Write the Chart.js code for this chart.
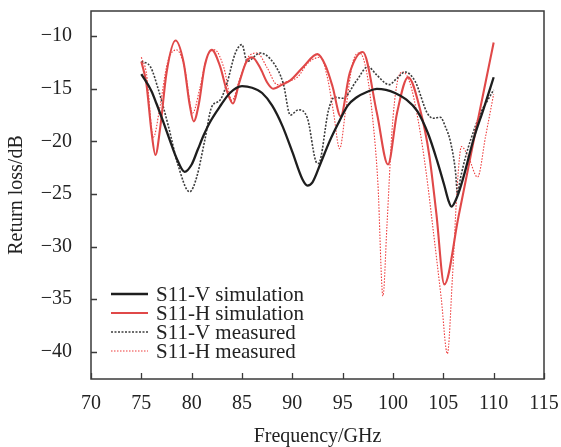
<!DOCTYPE html>
<html>
<head>
<meta charset="utf-8">
<script src="https://cdn.jsdelivr.net/npm/chart.js@4"></script>
<style>
  html, body { margin: 0; padding: 0; background: #fff; }
  #wrap { width: 561px; height: 447px; }
</style>
</head>
<body>
<div id="wrap"><canvas id="chart"></canvas></div>
<script>
// tick labels
const xTicks = [70, 75, 80, 85, 90, 95, 100, 105, 110, 115];
const yTicks = [-40, -35, -30, -25, -20, -15, -10];

const seriesNames = ['S11-V simulation', 'S11-H simulation', 'S11-V measured', 'S11-H measured'];

// S11-V simulation
const vSimFreq = [75, 76, 76.5, 77.2, 77.8, 78.5, 79.3, 80, 80.6, 81.2, 81.8, 82.8, 83.8, 85, 86, 87, 88, 89, 90, 91, 91.5, 92, 92.8, 93.7, 94.5, 95.5, 96.4, 97.4, 98.4, 99.3, 100.2, 101.3, 102.4, 103.5, 104.4, 105.1, 105.5, 105.8, 106.4, 107, 108, 109, 110];
const vSimDb = [-13.6, -15.2, -16.4, -18.2, -19.8, -21.6, -22.9, -22.2, -20.8, -19.4, -18.2, -16.7, -15.4, -14.75, -14.9, -15.4, -16.6, -18.5, -21.0, -23.6, -24.2, -23.9, -22.1, -20.0, -18.4, -16.6, -15.8, -15.3, -15.0, -15.1, -15.4, -16.0, -17.1, -19.3, -21.9, -24.2, -25.6, -26.2, -25.2, -23.4, -19.8, -16.9, -13.9];

// S11-H simulation
const hSimFreq = [75, 75.5, 76, 76.4, 76.9, 77.5, 78.4, 79.2, 79.8, 80.2, 80.7, 81.3, 82, 82.8, 83.5, 84.1, 84.7, 85.4, 86, 86.8, 87.5, 88.1, 89, 89.8, 91.1, 92.5, 93.3, 94, 94.8, 95.7, 97, 98.4, 99.5, 100.4, 101.5, 102.7, 103.6, 104.3, 105.1, 106.5, 108, 109, 110];
const hSimDb = [-12.4, -14.5, -19.0, -21.3, -18.5, -13.5, -10.4, -12.5, -16.5, -18.1, -16.5, -12.8, -11.3, -12.8, -15.2, -16.4, -14.5, -12.5, -12.0, -13.0, -14.4, -15.0, -14.6, -14.2, -12.9, -11.7, -12.8, -14.8, -17.6, -13.5, -11.5, -17.3, -22.2, -17.3, -13.9, -17.0, -21.3, -26.8, -33.6, -27.2, -20.0, -15.3, -10.6];

// S11-V measured
const vMeasFreq = [75, 75.9, 76.7, 77.7, 78.6, 79.8, 80.5, 81.3, 82, 82.8, 83.5, 84.3, 85, 85.5, 86.8, 88.1, 89.1, 89.8, 90.6, 91.5, 92.3, 92.6, 93.6, 94.2, 95.0, 96.4, 97.5, 98.4, 99.6, 100.4, 101.2, 102.2, 103.4, 104, 104.7, 105.2, 105.7, 106.2, 106.4, 106.7, 107.2, 107.7, 108.7, 109.4, 110];
const vMeasDb = [-12.4, -12.9, -15.1, -18.6, -22.1, -24.8, -23.4, -19.9, -16.7, -16.1, -14.5, -11.7, -10.8, -12.4, -11.6, -12.5, -14.5, -17.5, -17.0, -17.8, -21.8, -22.1, -17.0, -15.8, -15.9, -14.2, -12.9, -13.7, -14.6, -14.0, -13.4, -14.3, -17.3, -17.8, -17.7, -18.6, -20.0, -22.8, -24.9, -23.5, -21.5, -19.9, -17.3, -16.1, -15.1];

// S11-H measured
const hMeasFreq = [75, 75.5, 76.2, 76.8, 77.6, 78.5, 79.3, 80.1, 80.8, 81.5, 82.3, 83.2, 84, 84.8, 85.6, 86.5, 87.5, 88.5, 89.5, 90.5, 91.6, 92.8, 93.5, 94.1, 94.7, 95.3, 96, 96.7, 97.4, 98, 98.5, 99, 99.4, 99.9, 100.4, 101, 101.7, 102.5, 103.3, 104, 104.8, 105.4, 105.9, 106.4, 106.8, 107.5, 108.4, 109.2, 110];
const hMeasDb = [-12.0, -13.5, -19.6, -17.0, -12.5, -11.3, -13.0, -17.3, -15.0, -12.0, -11.3, -13.0, -16.1, -14.0, -12.0, -11.6, -13.0, -14.6, -14.3, -13.9, -12.5, -12.0, -14.0, -17.3, -20.7, -17.0, -12.5, -11.6, -13.5, -18.0, -24.0, -34.7, -28.0, -19.0, -14.5, -13.4, -14.5, -18.0, -23.0, -28.5, -35.0, -40.2, -33.0, -24.0, -20.5, -21.5, -23.4, -19.5, -15.5];

function pts(fs, ds) {
    return fs.map((f, i) => ({ x: f, y: ds[i] }));
}

const serif = "'Liberation Serif', 'DejaVu Serif', serif";
const minus = v => (v < 0 ? '\u2212' + Math.abs(v) : '' + v);

// marco, marcas hacia dentro y leyenda dentro del área
const framePlugin = {
    id: 'frame',
    afterDraw(chart) {
        const ctx = chart.ctx;
        const a = chart.chartArea;
        const xs = chart.scales.x, ys = chart.scales.y;
        ctx.save();
        ctx.strokeStyle = '#3a3a3a';
        ctx.lineWidth = 1.5;
        ctx.strokeRect(a.left, a.top, a.right - a.left, a.bottom - a.top);
        ctx.lineWidth = 1.3;
        ctx.beginPath();
        xTicks.forEach(v => {
            const px = Math.round(xs.getPixelForValue(v)) + 0.5;
            ctx.moveTo(px, a.bottom);
            ctx.lineTo(px, a.bottom - 6);
        });
        yTicks.forEach(v => {
            const py = Math.round(ys.getPixelForValue(v)) + 0.5;
            ctx.moveTo(a.left, py);
            ctx.lineTo(a.left + 6, py);
        });
        ctx.stroke();

        // leyenda
        ctx.font = '21px ' + serif;
        ctx.textBaseline = 'middle';
        ctx.fillStyle = '#222';
        chart.data.datasets.forEach((ds, i) => {
            const y = 294 + i * 19;
            ctx.strokeStyle = ds.borderColor;
            ctx.lineWidth = ds.borderWidth;
            ctx.setLineDash(ds.borderDash || []);
            ctx.beginPath();
            ctx.moveTo(111, y);
            ctx.lineTo(148, y);
            ctx.stroke();
            ctx.setLineDash([]);
            ctx.fillText(ds.label, 156, y + 1);
        });
        ctx.restore();
    }
};

const ctx = document.getElementById('chart').getContext('2d');
new Chart(ctx, {
    type: 'line',
    data: {
        datasets: [
            {
                label: seriesNames[0],
                data: pts(vSimFreq, vSimDb),
                borderColor: '#1e1e1e',
                borderWidth: 2.3,
                order: 1
            },
            {
                label: seriesNames[1],
                data: pts(hSimFreq, hSimDb),
                borderColor: '#e04848',
                borderWidth: 2.1,
                order: 2
            },
            {
                label: seriesNames[2],
                data: pts(vMeasFreq, vMeasDb),
                borderColor: '#3c3c3c',
                borderWidth: 1.6,
                borderDash: [2, 1.5],
                order: 3
            },
            {
                label: seriesNames[3],
                data: pts(hMeasFreq, hMeasDb),
                borderColor: '#ee3b3b',
                borderWidth: 1.1,
                borderDash: [1.5, 1.5],
                order: 4
            }
        ]
    },
    options: {
        responsive: true,
        maintainAspectRatio: false,
        animation: false,
        layout: {
            padding: { top: 11, right: 17, left: 0, bottom: 0 }
        },
        elements: {
            point: { radius: 0 },
            line: { cubicInterpolationMode: 'monotone', fill: false }
        },
        plugins: {
            legend: { display: false },
            tooltip: { enabled: false }
        },
        scales: {
            x: {
                type: 'linear',
                min: 70,
                max: 115,
                afterBuildTicks: s => { s.ticks = xTicks.map(v => ({ value: v })); },
                afterFit: s => { s.height = 68; s.paddingLeft = 0; s.paddingRight = 0; },
                grid: { display: false, drawTicks: false },
                border: { display: false },
                ticks: {
                    padding: 13,
                    color: '#222',
                    font: { family: serif, size: 20 },
                    callback: v => minus(v)
                },
                title: {
                    display: true,
                    text: 'Frequency/GHz',
                    color: '#222',
                    font: { family: serif, size: 20, lineHeight: 1 },
                    padding: { top: 0, bottom: 0 }
                }
            },
            y: {
                type: 'linear',
                min: -42.6,
                max: -7.6,
                afterBuildTicks: s => { s.ticks = yTicks.map(v => ({ value: v })); },
                afterFit: s => { s.width = 91; s.paddingTop = 0; s.paddingBottom = 0; },
                grid: { display: false, drawTicks: false },
                border: { display: false },
                ticks: {
                    padding: 19,
                    color: '#222',
                    font: { family: serif, size: 20 },
                    callback: v => minus(v)
                },
                title: {
                    display: true,
                    text: 'Return loss/dB',
                    color: '#222',
                    font: { family: serif, size: 20, lineHeight: 1 },
                    padding: { top: 7, bottom: 0 }
                }
            }
        }
    },
    plugins: [framePlugin]
});
</script>
</body>
</html>
